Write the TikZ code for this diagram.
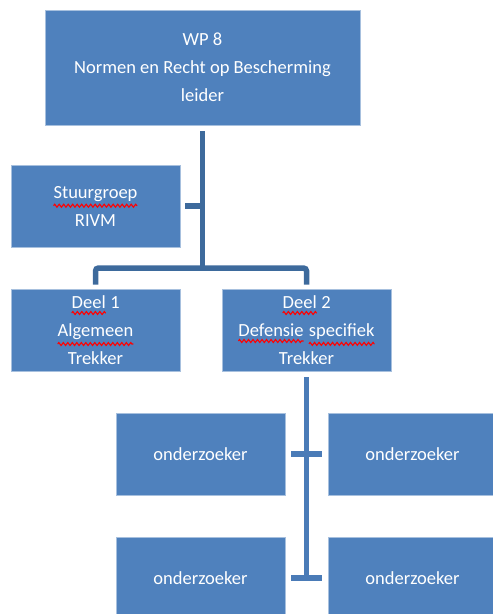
\documentclass[tikz,border=0pt]{standalone}
\usepackage{fontspec}
\setmainfont{Carlito}
\usetikzlibrary{calc, decorations.pathmorphing}
\definecolor{boxblue}{HTML}{4F81BD}
\definecolor{boxedge}{HTML}{A7C0DE}
\definecolor{linkdark}{HTML}{3D6A9C}
\definecolor{linklight}{HTML}{4A7BB7}
\newcommand{\spell}[1]{\tikz[baseline=(sp.base)]{\node[fill=none, draw=none, inner sep=0pt, outer sep=0pt, minimum width=0pt, minimum height=0pt, text=white] (sp) {#1};
	\draw[red, line width=1.1pt, decorate, decoration={zigzag, amplitude=1.5pt, segment length=4.5pt}] ([yshift=-4.5pt]sp.south west) -- ([yshift=-4.5pt]sp.south east);}}

\begin{document}
\begin{tikzpicture}[x=1pt, y=-1pt,
	wpbox/.style = {fill=boxblue, draw=boxedge, line width=0.6pt, text=white, align=center, font=\fontsize{18.5}{28}\selectfont, minimum width=169pt, minimum height=82pt, inner sep=0pt},
	link/.style = {draw=linkdark, line width=5.5pt},
	sublink/.style = {draw=linklight, line width=5.5pt}
]
\useasboundingbox (0, 0) rectangle (493, 614);
\clip (0, 0) rectangle (493, 614);

\node[wpbox, minimum width=315pt, minimum height=115pt] (wp) at (202.5, 67.5) {WP 8\\Normen en Recht op Bescherming\\leider};
\node[wpbox] (stuur) at (95.5, 206) {\spell{Stuurgroep}\\RIVM};
\node[wpbox] (deel1) at (95.5, 330) {\spell{Deel} 1\\\spell{Algemeen}\\Trekker};
\node[wpbox] (deel2) at (306.5, 330) {\spell{Deel} 2\\\spell{Defensie} \spell{specifiek}\\Trekker};
\node[wpbox] (ond1) at (200.5, 454) {onderzoeker};
\node[wpbox] (ond2) at (412.5, 454) {onderzoeker};
\node[wpbox] (ond3) at (200.5, 578) {onderzoeker};
\node[wpbox] (ond4) at (412.5, 578) {onderzoeker};

\coordinate (bus) at (202.5, 268);

\draw[link] ([yshift=-6pt]wp.south) -- (bus);
\draw[link] ([xshift=5pt]stuur.east) -- (wp.south |- stuur.east);
\draw[link, rounded corners=3pt] ([yshift=4pt]deel1.north) -- (deel1.north |- bus) -- (deel2.north |- bus) -- ([yshift=4pt]deel2.north);

\draw[sublink] ([yshift=-6pt]deel2.south) -- (deel2.south |- ond3.east);
\draw[sublink] ([xshift=6pt]ond1.east) -- ([xshift=-6pt]ond2.west);
\draw[sublink] ([xshift=6pt]ond3.east) -- ([xshift=-6pt]ond4.west);
\end{tikzpicture}
\end{document}
